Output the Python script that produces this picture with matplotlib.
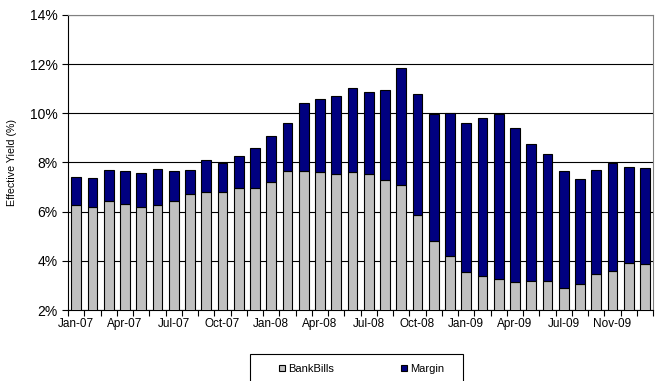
import numpy as np
import matplotlib
matplotlib.use("Agg")
from matplotlib import pyplot as plt
from matplotlib.patches import Rectangle
from matplotlib.ticker import FuncFormatter, FixedLocator

plt.rcParams["font.family"] = ["Liberation Sans", "DejaVu Sans"]

# BankBills (grey part) and total effective yield, monthly Jan-07 .. Dec-09
bank_bills = [6.26, 6.17, 6.44, 6.32, 6.21, 6.26, 6.44, 6.72, 6.79, 6.78, 6.97, 6.97,
              7.21, 7.66, 7.67, 7.63, 7.52, 7.62, 7.52, 7.28, 7.08, 5.85, 4.79, 4.19,
              3.53, 3.37, 3.27, 3.15, 3.20, 3.18, 2.89, 3.05, 3.46, 3.59, 3.91, 3.87]
total_yield = [7.42, 7.38, 7.71, 7.66, 7.58, 7.73, 7.65, 7.70, 8.09, 7.98, 8.26, 8.58,
               9.06, 9.60, 10.44, 10.59, 10.71, 11.04, 10.86, 10.93, 11.83, 10.79, 9.98, 10.03,
               9.60, 9.82, 9.96, 9.39, 8.74, 8.35, 7.66, 7.33, 7.71, 7.96, 7.81, 7.78]
margin = [t - b for t, b in zip(total_yield, bank_bills)]

tick_pos = [0, 3, 6, 9, 12, 15, 18, 21, 24, 27, 30, 33]
tick_labels = ["Jan-07", "Apr-07", "Jul-07", "Oct-07", "Jan-08", "Apr-08",
               "Jul-08", "Oct-08", "Jan-09", "Apr-09", "Jul-09", "Nov-09"]

W, H = 658, 381
fig = plt.figure(figsize=(W / 100, H / 100), dpi=100)
ax = fig.add_axes([68 / W, 1 - 310 / H, 585 / W, 295 / H])

x = np.arange(len(bank_bills))
ax.bar(x, bank_bills, width=0.6, color="#C0C0C0", edgecolor="black", linewidth=0.8,
       label="BankBills", zorder=3)
ax.bar(x, margin, width=0.6, bottom=bank_bills, color="#000080", edgecolor="black",
       linewidth=0.8, label="Margin", zorder=3)

ax.set_xlim(-0.5, len(x) - 0.5)
ax.set_ylim(2, 14)
ax.set_yticks(range(2, 15, 2))
ax.yaxis.set_major_formatter(FuncFormatter(lambda v, p: "{:.0f}%".format(v)))
ax.grid(axis="y", color="black", linewidth=0.8, zorder=1)

# labels every third month, tick marks between every month
ax.xaxis.set_major_locator(FixedLocator(tick_pos))
ax.set_xticklabels(tick_labels, fontsize=8.5)
ax.xaxis.set_minor_locator(FixedLocator(np.arange(-0.5, len(x), 1.0)))
ax.tick_params(axis="x", which="major", length=0, pad=6)
ax.tick_params(axis="x", which="minor", length=4, direction="out", width=0.8)
ax.tick_params(axis="y", length=4, direction="out", width=0.8, labelsize=10)

ax.set_ylabel("Effective Yield (%)", fontsize=7.7)
ax.yaxis.set_label_coords((17 - 68) / 585, 0.5)

for side in ["top", "right"]:
    ax.spines[side].set_color("#808080")
ax.spines["left"].set_color("black")
ax.spines["bottom"].set_color("black")

# legend box (runs off the bottom edge like the original)
fig.add_artist(Rectangle((250 / W, -0.05), 213 / W, 1 - 354 / H + 0.05,
                         transform=fig.transFigure, facecolor="white",
                         edgecolor="black", linewidth=0.8))
leg = fig.legend(loc="center left", bbox_to_anchor=(279 / W, 1 - 369 / H), ncol=2,
                 fontsize=8, frameon=False,
                 handlelength=0.55, handleheight=0.55, handletextpad=0.3,
                 columnspacing=6.0, borderpad=0, borderaxespad=0)
for h in leg.legend_handles:
    h.set_edgecolor("black")
    h.set_linewidth(0.8)

plt.savefig("out.png", dpi=100)
